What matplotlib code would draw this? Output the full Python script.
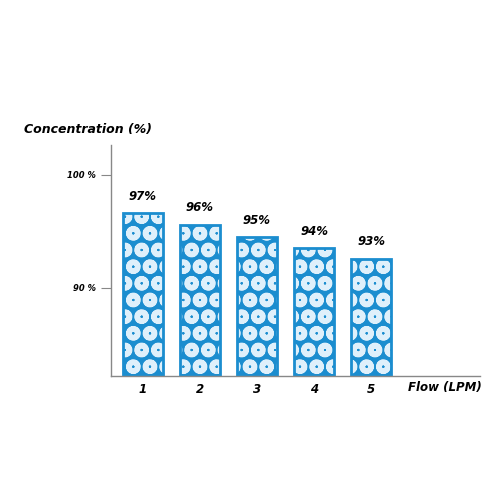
import matplotlib
matplotlib.use("Agg")
import matplotlib.pyplot as plt

flow = [1, 2, 3, 4, 5]
conc = [96.6, 95.6, 94.5, 93.5, 92.6]
labels = ["97%", "96%", "95%", "94%", "93%"]
yticks = [90, 100]
ytick_labels = ["90 %", "100 %"]

blue = "#1b8dcf"
plt.rcParams["hatch.linewidth"] = 2.2

fig = plt.figure(figsize=(5, 5), dpi=100)
ax = fig.add_axes([0.222, 0.248, 0.738, 0.462])

heights = [c - 80 for c in conc]
ax.bar(flow, heights, bottom=80, width=0.7, color=blue, edgecolor="none")
ax.bar(flow, heights, bottom=80, width=0.7, facecolor="none",
       edgecolor="#dff0fb", hatch="Oo", linewidth=0)
ax.bar(flow, heights, bottom=80, width=0.7, facecolor="none",
       edgecolor=blue, linewidth=2)

for x, c, t in zip(flow, conc, labels):
    ax.text(x, c + 0.9, t, ha="center", va="bottom", fontsize=8.5,
            fontweight="bold", fontstyle="italic")

ax.set_xlim(0.44, 6.91)
ax.set_ylim(82.2, 102.65)
ax.set_yticks(yticks)
ax.set_yticklabels(ytick_labels, fontsize=6, fontweight="bold", fontstyle="italic")
ax.set_xticks(flow)
ax.set_xticklabels([str(f) for f in flow], fontsize=8.5, fontweight="bold", fontstyle="italic")
ax.tick_params(axis="y", length=7, width=0.8, color="#888888", pad=4)
ax.tick_params(axis="x", length=0, pad=5)

for s in ["top", "right"]:
    ax.spines[s].set_visible(False)
for s in ["left", "bottom"]:
    ax.spines[s].set_color("#888888")
    ax.spines[s].set_linewidth(1)

fig.text(0.048, 0.74, "Concentration (%)", fontsize=9, fontweight="bold",
         fontstyle="italic", ha="left", va="center")
fig.text(0.963, 0.226, "Flow (LPM)", fontsize=8.5, fontweight="bold",
         fontstyle="italic", ha="right", va="center")

fig.savefig("out.png", dpi=100)
